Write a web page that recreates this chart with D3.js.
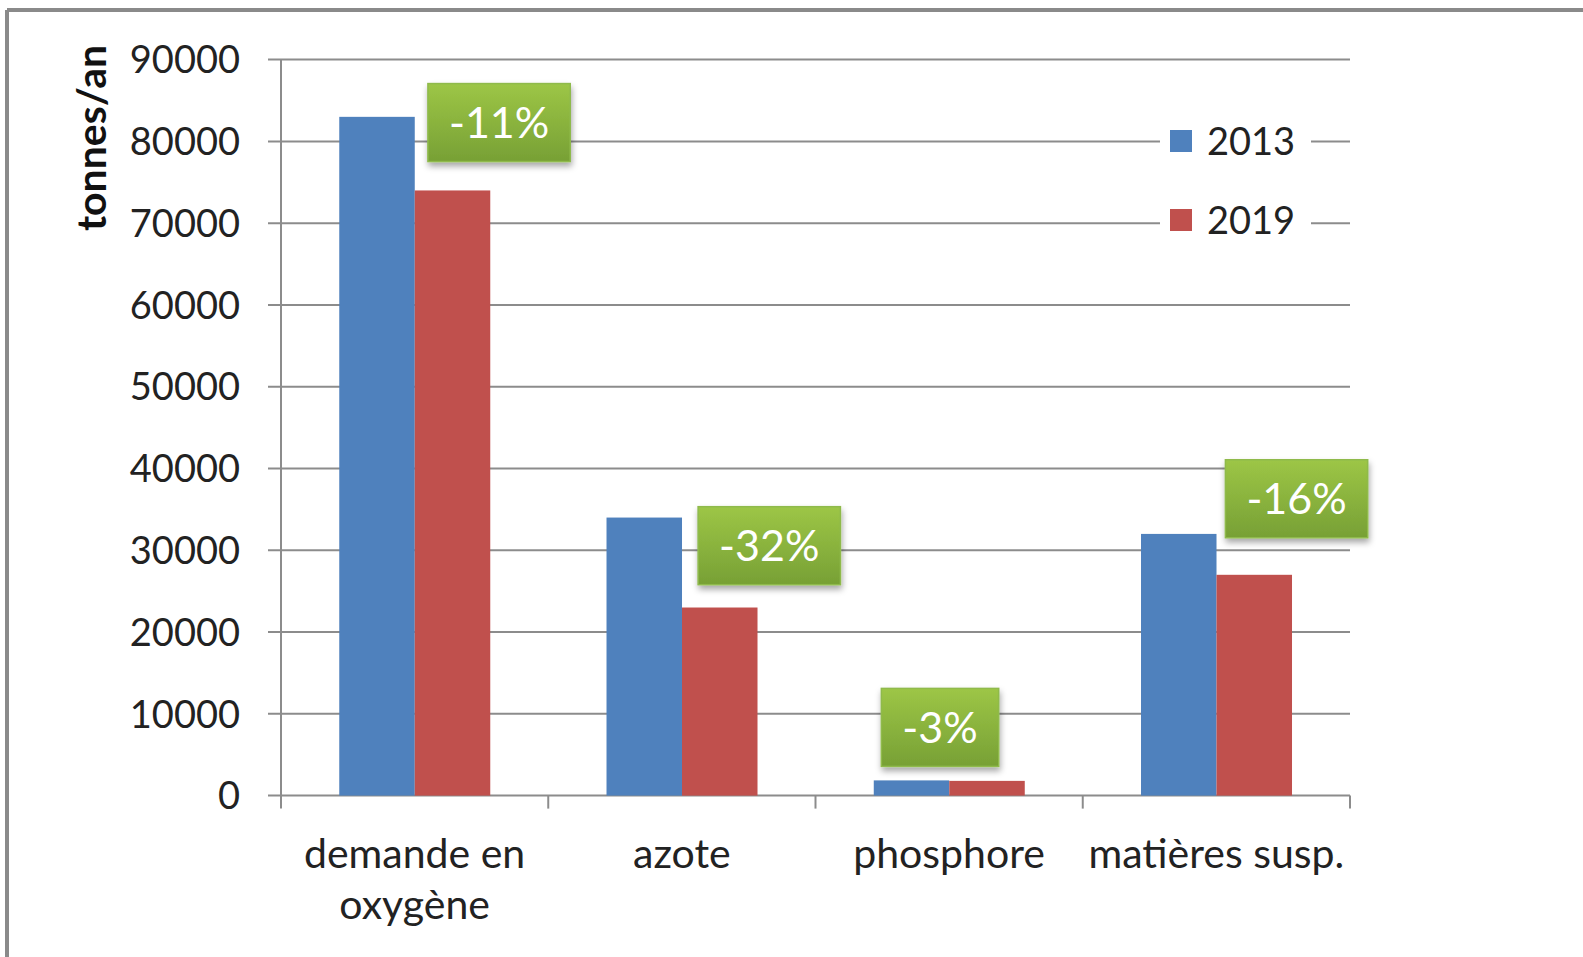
<!DOCTYPE html>
<html>
<head>
<meta charset="utf-8">
<script src="https://cdn.jsdelivr.net/npm/d3@7"></script>
<style>
  body { margin: 0; background: #fff; }
  svg { display: block; font-family: Lato, "Open Sans", sans-serif; }
</style>
</head>
<body>
<svg id="chart" width="1583" height="957"></svg>
<script>
// data
const categories = ["demande en oxygène", "azote", "phosphore", "matières susp."];
const series = ["2013", "2019"];
const values2013 = [83000, 34000, 1860, 32000];
const values2019 = [74000, 23000, 1800, 27000];
const yTicks = [0, 10000, 20000, 30000, 40000, 50000, 60000, 70000, 80000, 90000];

// the green "change" boxes: text, where in the band, at which value
const pctLabels = ["-11%", "-32%", "-3%", "-16%"];
const pctBandPos = [0.816, 0.827, 0.466, 0.80];
const pctValue = [82300, 30560, 8340, 36300];

const colors = { "2013": "#4f81bd", "2019": "#c0504d" };

const svg = d3.select("#chart");

// frame of the original picture (only top & left edges are visible)
svg.append("line").attr("x1", 7).attr("x2", 1583).attr("y1", 10).attr("y2", 10)
    .attr("stroke", "#8a8a8a").attr("stroke-width", 4);
svg.append("line").attr("x1", 7).attr("x2", 7).attr("y1", 10).attr("y2", 957)
    .attr("stroke", "#8a8a8a").attr("stroke-width", 4);

const plot = { left: 281, right: 1350, top: 59.6, bottom: 795.6 };

const x = d3.scaleBand().domain(categories).range([plot.left, plot.right]);
const bw = x.bandwidth();
const x1 = d3.scaleBand().domain(series).range([bw * 0.218, bw * 0.783]);
const y = d3.scaleLinear().domain([0, 90000]).range([plot.bottom, plot.top]);

// gridlines
svg.append("g")
    .selectAll("line")
    .data(yTicks)
    .enter()
    .append("line")
    .attr("x1", plot.left - 13)
    .attr("x2", plot.right)
    .attr("y1", d => y(d))
    .attr("y2", d => y(d))
    .attr("stroke", "#8c8c8c")
    .attr("stroke-width", 2);

// y axis line
svg.append("line")
    .attr("x1", plot.left).attr("x2", plot.left)
    .attr("y1", plot.top).attr("y2", plot.bottom)
    .attr("stroke", "#8c8c8c").attr("stroke-width", 2);

// x axis ticks at band edges
const edges = categories.map(c => x(c)).concat([plot.right]);
svg.append("g")
    .selectAll("line")
    .data(edges)
    .enter()
    .append("line")
    .attr("x1", d => d).attr("x2", d => d)
    .attr("y1", plot.bottom).attr("y2", plot.bottom + 13)
    .attr("stroke", "#8c8c8c").attr("stroke-width", 2);

// y tick labels
svg.append("g")
    .selectAll("text")
    .data(yTicks)
    .enter()
    .append("text")
    .attr("x", 240)
    .attr("y", d => y(d))
    .attr("dy", "0.36em")
    .attr("text-anchor", "end")
    .attr("font-size", 38)
    .attr("fill", "#222")
    .text(d => d);

// y axis title
svg.append("text")
    .attr("transform", "translate(106,138) rotate(-90)")
    .attr("text-anchor", "middle")
    .attr("font-size", 41)
    .attr("font-weight", "bold")
    .attr("fill", "#111")
    .text("tonnes/an");

// bars
const rows = categories.map((c, i) => ({ cat: c, vals: [values2013[i], values2019[i]] }));
const groups = svg.append("g")
    .selectAll("g")
    .data(rows)
    .enter()
    .append("g")
    .attr("transform", d => `translate(${x(d.cat)},0)`);

groups.selectAll("rect")
    .data(d => series.map((s, j) => ({ s: s, v: d.vals[j] })))
    .enter()
    .append("rect")
    .attr("x", d => x1(d.s))
    .attr("width", x1.bandwidth())
    .attr("y", d => y(d.v))
    .attr("height", d => plot.bottom - y(d.v))
    .attr("fill", d => colors[d.s]);

// category labels (first one wraps)
const catLines = { "demande en oxygène": ["demande en", "oxygène"] };
svg.append("g")
    .selectAll("text")
    .data(categories)
    .enter()
    .append("text")
    .attr("text-anchor", "middle")
    .attr("font-size", 41)
    .attr("fill", "#222")
    .each(function (d) {
        const lines = catLines[d] || [d];
        const t = d3.select(this);
        lines.forEach((l, k) => {
            t.append("tspan")
                .attr("x", x(d) + bw / 2)
                .attr("y", 853 + k * 51.5)
                .attr("dy", "0.36em")
                .text(l);
        });
    });

// legend
const legend = svg.append("g");
legend.append("rect")
    .attr("x", 1160).attr("y", 110).attr("width", 151).attr("height", 140)
    .attr("fill", "#fff");
const legendRows = legend.selectAll("g")
    .data(series)
    .enter()
    .append("g")
    .attr("transform", (d, i) => `translate(1170,${141 + i * 79})`);
legendRows.append("rect")
    .attr("x", 0).attr("y", -11).attr("width", 22).attr("height", 22)
    .attr("fill", d => colors[d]);
legendRows.append("text")
    .attr("x", 37).attr("y", 0).attr("dy", "0.36em")
    .attr("font-size", 38)
    .attr("fill", "#222")
    .text(d => d);

// green change boxes
const defs = svg.append("defs");
const grad = defs.append("linearGradient")
    .attr("id", "green").attr("x1", 0).attr("y1", 0).attr("x2", 0).attr("y2", 1);
grad.append("stop").attr("offset", "0%").attr("stop-color", "#9dc646");
grad.append("stop").attr("offset", "100%").attr("stop-color", "#77a035");
const shadow = defs.append("filter").attr("id", "shadow")
    .attr("x", "-20%").attr("y", "-20%").attr("width", "150%").attr("height", "160%");
shadow.append("feDropShadow")
    .attr("dx", 1).attr("dy", 4).attr("stdDeviation", 3)
    .attr("flood-color", "#000").attr("flood-opacity", 0.35);

const boxes = svg.append("g")
    .selectAll("g")
    .data(categories)
    .enter()
    .append("g")
    .attr("transform", (d, i) => `translate(${x(d) + bw * pctBandPos[i]},${y(pctValue[i])})`);

boxes.each(function (d, i) {
    const g = d3.select(this);
    const r = g.append("rect");
    const t = g.append("text")
        .attr("text-anchor", "middle")
        .attr("dy", "0.36em")
        .attr("font-size", 43)
        .attr("fill", "#fff")
        .text(pctLabels[i]);
    const w = t.node().getComputedTextLength() + 42;
    r.attr("x", -w / 2).attr("y", -39).attr("width", w).attr("height", 78)
        .attr("fill", "url(#green)")
        .attr("stroke", "#8fba4c").attr("stroke-width", 1.5)
        .attr("filter", "url(#shadow)");
});
</script>
</body>
</html>
